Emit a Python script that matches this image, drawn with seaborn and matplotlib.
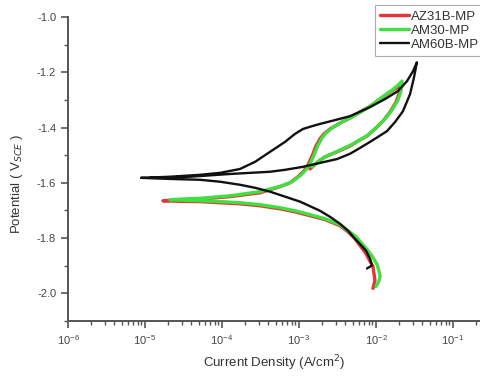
import matplotlib
matplotlib.use("Agg")
import matplotlib.pyplot as plt
import seaborn as sns
import pandas as pd
from matplotlib.ticker import FixedLocator, MultipleLocator, FormatStrFormatter, LogFormatterSciNotation

# Potentiodynamic polarization scans: current density (A/cm^2) and potential (V vs SCE)
# Each path: cathodic end -> corrosion potential -> forward anodic -> reverse scan
az31b_current = [9.14e-3, 9.70e-3, 9.42e-3, 9.14e-3, 8.11e-3, 7.41e-3, 6.38e-3, 5.33e-3, 4.32e-3, 3.40e-3,
                 2.18e-3, 1.39e-3, 8.87e-4, 5.66e-4, 3.12e-4, 1.71e-4, 9.42e-5, 5.18e-5, 2.85e-5, 1.71e-5,
                 2.85e-5, 5.18e-5, 1.27e-4, 3.12e-4, 5.66e-4, 7.64e-4, 9.70e-4, 1.16e-3, 1.31e-3, 1.48e-3,
                 1.66e-3, 1.87e-3, 2.11e-3, 2.53e-3, 3.40e-3, 4.59e-3, 6.19e-3, 8.36e-3, 1.13e-2, 1.52e-2,
                 1.82e-2, 2.05e-2,
                 1.99e-2, 1.82e-2, 1.52e-2, 1.23e-2, 9.70e-3, 7.64e-3, 5.83e-3, 4.59e-3, 3.12e-3, 2.18e-3,
                 1.77e-3, 1.39e-3]
az31b_potential = [-1.982, -1.953, -1.928, -1.903, -1.877, -1.856, -1.831, -1.802, -1.777, -1.755,
                   -1.733, -1.719, -1.705, -1.694, -1.683, -1.676, -1.672, -1.668, -1.667, -1.665,
                   -1.661, -1.659, -1.650, -1.636, -1.614, -1.600, -1.578, -1.557, -1.535, -1.503,
                   -1.467, -1.441, -1.423, -1.405, -1.384, -1.366, -1.344, -1.323, -1.297, -1.272,
                   -1.258, -1.247,
                   -1.279, -1.308, -1.344, -1.377, -1.405, -1.431, -1.449, -1.467, -1.488, -1.506,
                   -1.524, -1.550]

am30_current = [1.00e-2, 1.09e-2, 1.13e-2, 1.09e-2, 1.03e-2, 9.14e-3, 7.87e-3, 6.58e-3, 5.50e-3, 4.32e-3,
                3.40e-3, 2.18e-3, 1.39e-3, 8.87e-4, 5.66e-4, 3.12e-4, 1.71e-4, 9.42e-5, 5.18e-5, 3.30e-5,
                2.11e-5,
                5.18e-5, 1.27e-4, 3.12e-4, 6.01e-4, 8.11e-4, 1.03e-3, 1.23e-3, 1.39e-3, 1.57e-3, 1.77e-3,
                1.99e-3, 2.24e-3, 2.69e-3, 3.62e-3, 4.88e-3, 6.58e-3, 8.87e-3, 1.20e-2, 1.61e-2, 1.93e-2,
                2.18e-2,
                2.11e-2, 1.93e-2, 1.61e-2, 1.31e-2, 1.03e-2, 7.87e-3, 6.19e-3, 4.73e-3, 3.21e-3, 2.31e-3,
                1.87e-3, 1.48e-3]
am30_potential = [-1.975, -1.957, -1.939, -1.917, -1.895, -1.870, -1.845, -1.820, -1.795, -1.773,
                  -1.751, -1.730, -1.715, -1.701, -1.690, -1.679, -1.672, -1.668, -1.665, -1.663,
                  -1.661,
                  -1.656, -1.647, -1.632, -1.611, -1.596, -1.575, -1.553, -1.532, -1.499, -1.463,
                  -1.438, -1.420, -1.402, -1.380, -1.362, -1.341, -1.319, -1.290, -1.265, -1.247,
                  -1.232,
                  -1.268, -1.301, -1.337, -1.369, -1.398, -1.427, -1.445, -1.463, -1.485, -1.503,
                  -1.517, -1.542]

am60b_current = [7.64e-3, 8.87e-3, 8.36e-3, 7.41e-3, 5.33e-3, 4.32e-3, 3.40e-3, 2.53e-3, 1.87e-3, 1.03e-3,
                 6.58e-4, 4.20e-4, 2.69e-4, 1.71e-4, 9.42e-5, 5.18e-5, 2.11e-5, 8.87e-6,
                 2.11e-5, 5.18e-5, 9.42e-5, 1.71e-4, 2.69e-4, 4.20e-4, 6.58e-4, 8.87e-4, 1.13e-3, 1.48e-3,
                 1.87e-3, 2.94e-3, 4.59e-3, 8.36e-3, 1.31e-2, 1.93e-2, 2.53e-2, 3.03e-2, 3.40e-2,
                 3.12e-2, 2.77e-2, 2.24e-2, 1.77e-2, 1.39e-2, 1.06e-2, 8.36e-3, 6.19e-3, 4.59e-3, 3.12e-3,
                 1.87e-3, 1.13e-3, 6.58e-4, 4.20e-4, 2.31e-4, 1.27e-4, 3.84e-5, 1.16e-5]
am60b_potential = [-1.910, -1.899, -1.874, -1.845, -1.802, -1.773, -1.748, -1.723, -1.701, -1.668,
                   -1.650, -1.632, -1.618, -1.607, -1.596, -1.589, -1.586, -1.582,
                   -1.578, -1.571, -1.564, -1.550, -1.524, -1.488, -1.452, -1.423, -1.405, -1.395,
                   -1.387, -1.373, -1.359, -1.326, -1.297, -1.268, -1.232, -1.196, -1.164,
                   -1.218, -1.279, -1.341, -1.380, -1.413, -1.434, -1.452, -1.474, -1.495, -1.514,
                   -1.528, -1.542, -1.553, -1.560, -1.564, -1.568, -1.578, -1.582]

alloys = ["AZ31B-MP", "AM30-MP", "AM60B-MP"]
colors = ["#e8323a", "#3fe03f", "#111111"]
widths = [2.4, 2.4, 1.7]
x_ticks = [1e-6, 1e-5, 1e-4, 1e-3, 1e-2, 1e-1]

frames = []
for name, cur, pot in zip(alloys,
                          [az31b_current, am30_current, am60b_current],
                          [az31b_potential, am30_potential, am60b_potential]):
    frames.append(pd.DataFrame({"alloy": name, "current": cur, "potential": pot,
                                "step": range(len(cur))}))
df = pd.concat(frames, ignore_index=True)

sns.set_style("white")
plt.rcParams["axes.unicode_minus"] = False
plt.rcParams["font.family"] = ["Liberation Sans", "DejaVu Sans"]

fig = plt.figure(figsize=(4.81, 3.77), dpi=100)
ax = fig.add_axes([68 / 481, 56 / 377, 413 / 481, 304 / 377])

for name, col, lw in zip(alloys, colors, widths):
    sub = df[df["alloy"] == name]
    sns.lineplot(data=sub, x="current", y="potential", sort=False, estimator=None,
                 color=col, linewidth=lw, label=name, ax=ax,
                 solid_joinstyle="round", solid_capstyle="round")

ax.set_xscale("log")
ax.set_xlim(1e-6, 10 ** -0.636)
ax.set_ylim(-2.1, -1.0)

ax.yaxis.set_major_locator(MultipleLocator(0.2))
ax.yaxis.set_minor_locator(MultipleLocator(0.1))
ax.yaxis.set_major_formatter(FormatStrFormatter("%.1f"))
ax.xaxis.set_major_locator(FixedLocator(x_ticks))
ax.xaxis.set_major_formatter(LogFormatterSciNotation())
minor = [m * t for t in x_ticks for m in range(2, 10)]
ax.xaxis.set_minor_locator(FixedLocator(minor))

gray = "#555555"
for side in ["top", "right"]:
    ax.spines[side].set_visible(False)
for side in ["left", "bottom"]:
    ax.spines[side].set_color(gray)
    ax.spines[side].set_linewidth(1.4)

ax.tick_params(which="major", direction="out", length=5, width=1.2, color=gray,
               labelsize=8, labelcolor="#444444", left=True, bottom=True)
ax.tick_params(which="minor", direction="out", length=3, width=1.0, color=gray,
               left=True, bottom=True)

ax.set_xlabel("Current Density (A/cm$^2$)", fontsize=9.5, color="#333333")
ax.set_ylabel("Potential ( V$_{SCE}$ )", fontsize=9.5, color="#333333")
ax.xaxis.set_label_coords((274 - 68) / 413, -0.105)
ax.yaxis.set_label_coords(-0.104, (321 - 184) / 304)

leg = ax.legend(loc="upper left", bbox_to_anchor=(375 / 481, 1 - 5 / 377),
                bbox_transform=fig.transFigure, frameon=True, fontsize=9.5,
                handlelength=2.2, handletextpad=0.15, borderpad=0.4,
                labelspacing=0.15, borderaxespad=0, fancybox=False)
leg.get_frame().set_edgecolor("#999999")
leg.get_frame().set_linewidth(0.8)
for t in leg.get_texts():
    t.set_color("#333333")

fig.savefig("out.png", dpi=100)
